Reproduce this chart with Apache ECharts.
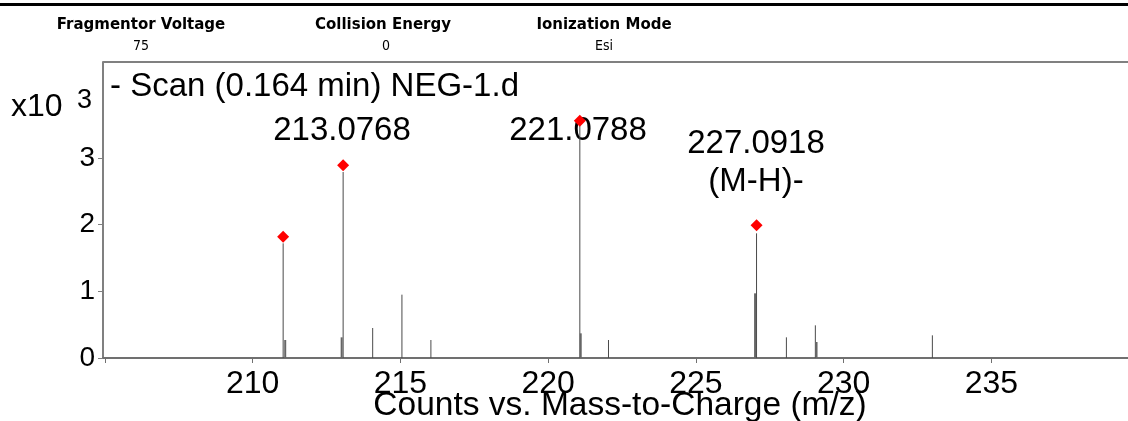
<!DOCTYPE html>
<html>
<head>
<meta charset="utf-8">
<script src="https://cdn.jsdelivr.net/npm/echarts@6/dist/echarts.min.js"></script>
<style>
  html, body { margin: 0; padding: 0; background: #fff; }
  #chart { width: 1128px; height: 421px; }
</style>
</head>
<body>
<div id="chart"></div>
<script>
// ---- data (counts in units of x10^3) ----
const peakMz      = [211.03, 213.06, 214.06, 215.05, 216.03, 221.07, 222.04, 227.05, 228.06, 229.04, 233.00];
const peakCounts  = [1.72,   2.79,   0.45,   0.95,   0.27,   3.49,   0.27,   1.87,   0.31,   0.49,   0.34];
const satMz       = [211.10, 213.01, 221.10, 227.00, 229.08];
const satCounts   = [0.27,   0.31,   0.37,   0.97,   0.24];
const markedMz    = [211.03, 213.06, 221.07, 227.05];
const markedCounts= [1.82,   2.89,   3.56,   1.99];
const xTicks      = [205, 210, 215, 220, 225, 230, 235];
const xTickLabels = [210, 215, 220, 225, 230, 235];
const yTicks      = [0, 1, 2, 3];
const headerNames = ['Fragmentor Voltage', 'Collision Energy', 'Ionization Mode'];
const headerValues= ['75', '0', 'Esi'];
const peakLabels  = ['213.0768', '221.0788', '227.0918\n(M-H)-'];
const scanTitle   = '- Scan (0.164 min) NEG-1.d';
const xTitle      = 'Counts vs. Mass-to-Charge (m/z)';

const FONT = '"Liberation Sans", Arial, sans-serif';

function stickRenderer(width, color) {
  return function (params, api) {
    const p0 = api.coord([api.value(0), 0]);
    const p1 = api.coord([api.value(0), api.value(1)]);
    return {
      type: 'line',
      shape: { x1: p0[0], y1: p0[1], x2: p1[0], y2: p1[1] },
      style: { stroke: color, lineWidth: width }
    };
  };
}

const chart = echarts.init(document.getElementById('chart'), null, { renderer: 'canvas' });

const headerX = [141, 383, 604];
const graphics = [
  { type: 'rect', shape: { x: 0, y: 3, width: 1128, height: 3 }, style: { fill: '#000' } },
  { type: 'line', shape: { x1: 103, y1: 62, x2: 1128, y2: 62 }, style: { stroke: '#808080', lineWidth: 2 } },
  { type: 'text', style: { text: scanTitle, x: 110, y: 87, font: '33px ' + FONT, fill: '#000', textVerticalAlign: 'middle' } },
  { type: 'text', style: { text: 'x10', x: 11, y: 107, font: '32px ' + FONT, fill: '#000', textVerticalAlign: 'middle' } },
  { type: 'text', style: { text: '3', x: 77, y: 101, font: '27px ' + FONT, fill: '#000', textVerticalAlign: 'middle' } },
  { type: 'text', style: { text: peakLabels[0], x: 342, y: 131, font: '33px ' + FONT, fill: '#000', textAlign: 'center', textVerticalAlign: 'middle' } },
  { type: 'text', style: { text: peakLabels[1], x: 578, y: 131, font: '33px ' + FONT, fill: '#000', textAlign: 'center', textVerticalAlign: 'middle' } },
  { type: 'text', style: { text: peakLabels[2], x: 756, y: 163, font: '33px ' + FONT, lineHeight: 38, fill: '#000', textAlign: 'center', textVerticalAlign: 'middle' } },
  { type: 'text', style: { text: xTitle, x: 620, y: 406, font: '33.5px ' + FONT, fill: '#000', textAlign: 'center', textVerticalAlign: 'middle' } }
];
headerNames.forEach(function (n, i) {
  graphics.push({ type: 'text', style: { text: n, x: headerX[i], y: 25, font: 'bold 15px "DejaVu Sans", sans-serif', fill: '#000', textAlign: 'center', textVerticalAlign: 'middle' } });
  graphics.push({ type: 'text', style: { text: headerValues[i], x: headerX[i] + (i === 1 ? 3 : 0), y: 46, font: '14px "DejaVu Sans Condensed", "DejaVu Sans", sans-serif', fill: '#000', textAlign: 'center', textVerticalAlign: 'middle' } });
});

chart.setOption({
  animation: false,
  backgroundColor: '#fff',
  grid: { left: 103, right: 0, top: 62, bottom: 63, containLabel: false },
  xAxis: {
    type: 'value',
    min: 204.934,
    max: 239.62,
    axisLine: { show: true, lineStyle: { color: '#707070', width: 2 } },
    axisTick: { show: true, length: 5, lineStyle: { color: '#707070', width: 1 }, customValues: xTicks },
    axisLabel: { show: true, customValues: xTickLabels, fontSize: 32, fontFamily: FONT, color: '#000', margin: 10 },
    splitLine: { show: false }
  },
  yAxis: {
    type: 'value',
    min: 0,
    max: 4.44,
    axisLine: { show: true, lineStyle: { color: '#808080', width: 2 } },
    axisTick: { show: true, length: 5, lineStyle: { color: '#808080', width: 1 }, customValues: yTicks },
    axisLabel: { show: true, customValues: yTicks, fontSize: 28, fontFamily: FONT, color: '#000', margin: 8 },
    splitLine: { show: false }
  },
  series: [
    {
      name: 'peaks', type: 'custom',
      data: peakMz.map(function (m, i) { return [m, peakCounts[i]]; }),
      renderItem: stickRenderer(1, '#4a4a4a'), z: 2
    },
    {
      name: 'satellite', type: 'custom',
      data: satMz.map(function (m, i) { return [m, satCounts[i]]; }),
      renderItem: stickRenderer(2, '#666'), z: 2
    },
    {
      name: 'marked', type: 'scatter',
      data: markedMz.map(function (m, i) { return [m, markedCounts[i]]; }),
      symbol: 'diamond', symbolSize: [12, 12],
      itemStyle: { color: '#ff0000', opacity: 1 }, z: 3
    }
  ],
  graphic: graphics
});
</script>
</body>
</html>
